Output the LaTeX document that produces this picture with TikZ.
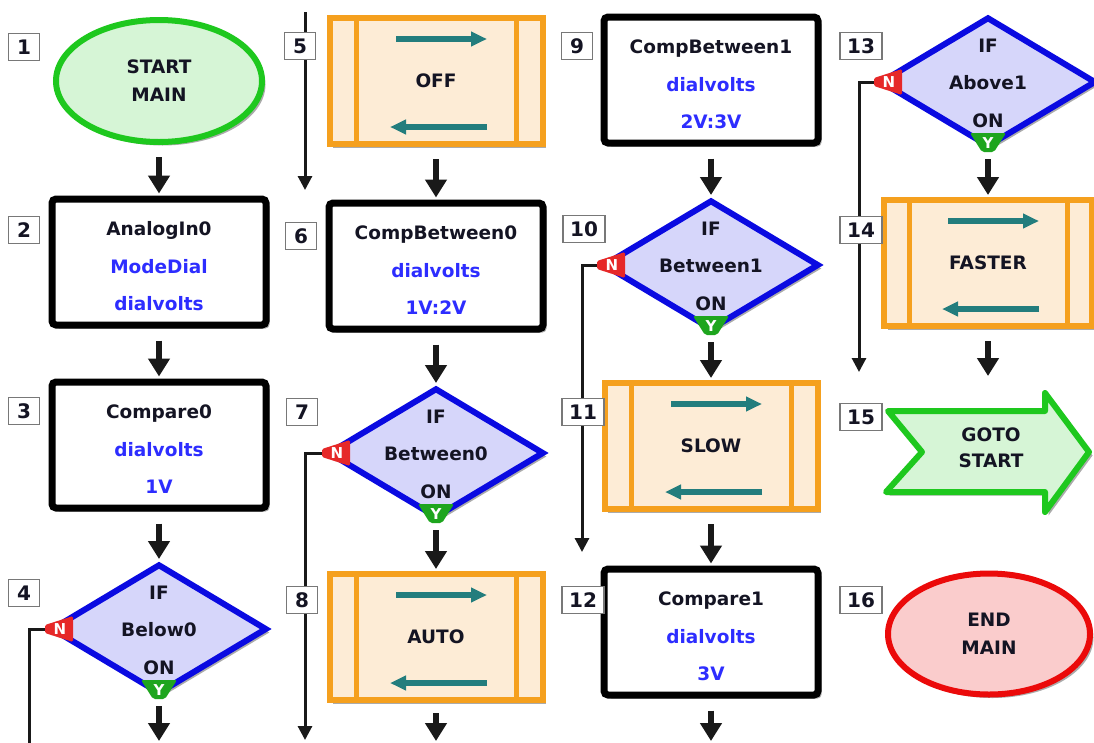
\documentclass[tikz,border=0pt]{standalone}
\usepackage{fontspec}
\setmainfont{DejaVu Sans}
\usetikzlibrary{shapes.geometric,arrows.meta,shadows}
\definecolor{txt}{RGB}{20,20,35}
\definecolor{tblue}{RGB}{45,45,255}
\definecolor{dblue}{RGB}{10,10,225}
\definecolor{lav}{RGB}{214,214,250}
\definecolor{ggreen}{RGB}{30,200,30}
\definecolor{lgreen}{RGB}{214,245,214}
\definecolor{rred}{RGB}{235,10,10}
\definecolor{lred}{RGB}{250,204,204}
\definecolor{orng}{RGB}{245,160,30}
\definecolor{peach}{RGB}{253,236,214}
\definecolor{tealc}{RGB}{35,125,125}
\definecolor{nred}{RGB}{230,40,40}
\definecolor{ygreen}{RGB}{30,165,30}
\definecolor{numgray}{RGB}{120,120,120}
\newcommand\NoMark[1]{%
  \fill[nred, rounded corners=1.5pt] ([shift={(-3,-4)}]#1.west) -- ([shift={(25,-13)}]#1.west) -- ([shift={(25,13)}]#1.west) -- ([shift={(-3,4)}]#1.west) -- cycle;
  \node[text=white, font=\fontsize{15}{15}\selectfont\bfseries] (#1n) at ([shift={(12,0)}]#1.west) {N};}
\newcommand\YesMark[1]{%
  \fill[ygreen, rounded corners=2pt] ([shift={(-18,-17)}]#1.south) -- ([shift={(18,-17)}]#1.south) -- ([shift={(6,2)}]#1.south) -- ([shift={(-6,2)}]#1.south) -- cycle;
  \node[text=white, font=\fontsize{15}{15}\selectfont\bfseries] (#1y) at ([shift={(0,-7)}]#1.south) {Y};}
\newcommand\CmdDeco[2]{%
  \draw[orng, line width=5pt] ([shift={(-#2,0)}]#1.north) -- ([shift={(-#2,0)}]#1.south);
  \draw[orng, line width=5pt] ([shift={(#2,0)}]#1.north) -- ([shift={(#2,0)}]#1.south);
  \draw[tarrow] ([shift={(-40,-42)}]#1.center) -- ([shift={(51,-42)}]#1.center);
  \draw[tarrow] ([shift={(51,46)}]#1.center) -- ([shift={(-46,46)}]#1.center);}
\begin{document}
\begin{tikzpicture}[x=1pt,y=-1pt,
  every node/.style={font=\fontsize{18.5}{28}\selectfont\bfseries, text=txt},
  shad/.style={drop shadow={shadow xshift=3.5pt,shadow yshift=-3.5pt,opacity=0.33,fill=black}},
  numbox/.style={draw=numgray, line width=1.3pt, fill=white, minimum width=31pt, minimum height=27pt, inner xsep=7pt, inner ysep=0pt, font=\fontsize{20}{20}\selectfont\bfseries},
  startend/.style={ellipse, line width=6pt, shad, inner sep=0pt, align=center},
  proc/.style={rectangle, draw=black, line width=7pt, rounded corners=4pt, fill=white, minimum width=214pt, minimum height=126pt, shad},
  cmd/.style={rectangle, draw=orng, line width=6pt, fill=peach, minimum width=213pt, minimum height=126pt, shad},
  dec/.style={diamond, draw=dblue, line width=6pt, fill=lav, minimum width=216pt, minimum height=130pt, inner sep=0pt, shad},
  lines/.style={align=center, font=\fontsize{18.5}{37.5}\selectfont\bfseries},
  flow/.style={line width=6pt, draw=black!90, -{Triangle[length=18pt,width=21pt]}},
  nline/.style={line width=3pt, draw=black!90},
  narrow/.style={nline, -{Triangle[length=14pt,width=14pt]}},
  tarrow/.style={line width=6pt, draw=tealc, -{Triangle[length=16pt,width=14pt]}},
]
\fill[white] (0,0) rectangle (1094,742);
\useasboundingbox (0,0) rectangle (1094,742);

% ---------- column 1
\node[startend, draw=ggreen, fill=lgreen, minimum width=206pt, minimum height=122pt] (n1) at (159,81) {START\\MAIN};
\node[proc] (n2) at (159,262) {};
\node[lines] (n2t) at ([shift={(0,4.5)}]n2.center) {AnalogIn0\\\textcolor{tblue}{ModeDial}\\\textcolor{tblue}{dialvolts}};
\node[proc] (n3) at (159,445) {};
\node[lines] (n3t) at ([shift={(0,4.5)}]n3.center) {Compare0\\\textcolor{tblue}{dialvolts}\\\textcolor{tblue}{1V}};
\node[dec] (d4) at (159,629) {};
\node[lines] (d4t) at ([shift={(0,1)}]d4.center) {IF\\Below0\\ON};

% ---------- column 2
\node[cmd] (n5) at (436,81) {OFF};
\CmdDeco{n5}{80}
\node[proc] (n6) at (436,266) {};
\node[lines] (n6t) at ([shift={(0,4.5)}]n6.center) {CompBetween0\\\textcolor{tblue}{dialvolts}\\\textcolor{tblue}{1V:2V}};
\node[dec] (d7) at (436,453) {};
\node[lines] (d7t) at ([shift={(0,1)}]d7.center) {IF\\Between0\\ON};
\node[cmd] (n8) at (436,637) {AUTO};
\CmdDeco{n8}{80}

% ---------- column 3
\node[proc] (n9) at (711,80) {};
\node[lines] (n9t) at ([shift={(0,4.5)}]n9.center) {CompBetween1\\\textcolor{tblue}{dialvolts}\\\textcolor{tblue}{2V:3V}};
\node[dec] (d10) at (711,265) {};
\node[lines] (d10t) at ([shift={(0,1)}]d10.center) {IF\\Between1\\ON};
\node[cmd] (n11) at (711,446) {SLOW};
\CmdDeco{n11}{80}
\node[proc] (n12) at (711,632) {};
\node[lines] (n12t) at ([shift={(0,4.5)}]n12.center) {Compare1\\\textcolor{tblue}{dialvolts}\\\textcolor{tblue}{3V}};

% ---------- column 4
\node[dec] (d13) at (988,82) {};
\node[lines] (d13t) at ([shift={(0,1)}]d13.center) {IF\\Above1\\ON};
\node[cmd, minimum width=208pt] (n14) at (988,263) {FASTER};
\CmdDeco{n14}{79}
\draw[line width=6pt, draw=ggreen, fill=lgreen, line join=round, shad]
  (888,411) -- (1045,411) -- (1045,393) -- (1089,452) -- (1045,512) -- (1045,492) -- (886,492) -- (922,452) -- cycle;
\node[align=center, font=\fontsize{18.5}{26}\selectfont\bfseries] (n15) at (991,448) {GOTO\\START};
\node[startend, draw=rred, fill=lred, minimum width=202pt, minimum height=121pt] (n16) at (989,634) {END\\MAIN};

% ---------- flow arrows
\coordinate (o4) at (159,741);
\coordinate (o8) at (436,741);
\coordinate (o12) at (711,741);
\coordinate (i15) at (988,376);
\draw[flow] ([shift={(0,12)}]n1.south) -- ([shift={(0,-2)}]n2.north);
\draw[flow] ([shift={(0,12)}]n2.south) -- ([shift={(0,-2)}]n3.north);
\draw[flow] ([shift={(0,12)}]n3.south) -- ([shift={(0,-2)}]d4.north);
\draw[flow] ([shift={(0,9)}]d4.south) -- (o4);
\draw[flow] ([shift={(0,12)}]n5.south) -- ([shift={(0,-2)}]n6.north);
\draw[flow] ([shift={(0,12)}]n6.south) -- ([shift={(0,-2)}]d7.north);
\draw[flow] ([shift={(0,9)}]d7.south) -- ([shift={(0,-2)}]n8.north);
\draw[flow] ([shift={(0,10)}]n8.south) -- (o8);
\draw[flow] ([shift={(0,12)}]n9.south) -- ([shift={(0,-2)}]d10.north);
\draw[flow] ([shift={(0,9)}]d10.south) -- ([shift={(0,-2)}]n11.north);
\draw[flow] ([shift={(0,12)}]n11.south) -- ([shift={(0,-2)}]n12.north);
\draw[flow] ([shift={(0,12)}]n12.south) -- (o12);
\draw[flow] ([shift={(0,9)}]d13.south) -- ([shift={(0,-2)}]n14.north);
\draw[flow] ([shift={(0,12)}]n14.south) -- (i15);

% ---------- "N" branches
\coordinate (e4) at (29,745);
\coordinate (t5) at (305,12);
\coordinate (b5) at (305,190);
\coordinate (e7) at (305,740);
\coordinate (e10) at (582,552);
\coordinate (e13) at (859,372);
\draw[nline] (d4.west) -| (e4);
\draw[narrow] (t5) -- (b5);
\draw[narrow] (d7.west) -| (e7);
\draw[narrow] (d10.west) -| (e10);
\draw[narrow] (d13.west) -| (e13);

\NoMark{d4}\YesMark{d4}
\NoMark{d7}\YesMark{d7}
\NoMark{d10}\YesMark{d10}
\NoMark{d13}\YesMark{d13}

% ---------- step numbers
\node[numbox] (l1) at (24,47) {1};
\node[numbox] (l2) at (24,230) {2};
\node[numbox] (l3) at (24,411) {3};
\node[numbox] (l4) at (24,593) {4};
\node[numbox] (l5) at (300,46) {5};
\node[numbox] (l6) at (301,236) {6};
\node[numbox] (l7) at (302,412) {7};
\node[numbox] (l8) at (302,600) {8};
\node[numbox] (l9) at (577,46) {9};
\node[numbox] (l10) at (584,229) {10};
\node[numbox] (l11) at (583,412) {11};
\node[numbox] (l12) at (583,600) {12};
\node[numbox] (l13) at (861,46) {13};
\node[numbox] (l14) at (861,230) {14};
\node[numbox] (l15) at (861,417) {15};
\node[numbox] (l16) at (861,600) {16};
\end{tikzpicture}
\end{document}
